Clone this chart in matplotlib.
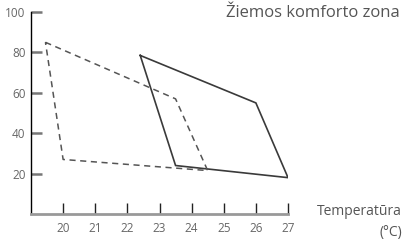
import matplotlib
matplotlib.use("Agg")
import matplotlib.pyplot as plt

# Data
solid_t = [22.4, 26.0, 27.0, 23.5, 22.4]
solid_h = [78.5, 55.0, 18.0, 24.0, 78.5]
dash_t = [19.45, 23.5, 24.5, 20.0, 19.45]
dash_h = [85.0, 57.0, 21.5, 27.0, 85.0]
xticks = [20, 21, 22, 23, 24, 25, 26, 27]
yticks = [20, 40, 60, 80, 100]
title = "Žiemos komforto zona"
xlabel = "Temperatūra\n(°C)"

plt.rcParams['font.family'] = ['Open Sans', 'DejaVu Sans']

fig = plt.figure(figsize=(4.06, 2.40), dpi=100)
ax = fig.add_axes([31/406, 1-214/240, (288-31)/406, (214-12)/240])
ax.plot(solid_t, solid_h, color='#3a3a3a', lw=1.2, solid_joinstyle='miter')
ax.plot(dash_t, dash_h, color='#555555', lw=1.1, dashes=(4, 3))
ax.set_xlim(19, 27)
ax.set_ylim(0, 100)
ax.set_xticks(xticks)
ax.set_yticks(yticks)
ax.spines['top'].set_visible(False)
ax.spines['right'].set_visible(False)
ax.spines['left'].set_color('black')
ax.spines['left'].set_linewidth(1.0)
ax.spines['bottom'].set_color('#999999')
ax.spines['bottom'].set_linewidth(2.0)
ax.tick_params(axis='y', direction='in', length=8, width=1.8, color='#777777',
               labelcolor='#666666', labelsize=8.5, pad=4)
ax.tick_params(axis='x', direction='in', length=8, width=1.0, color='#222222',
               labelcolor='#666666', labelsize=8.5, pad=6)
fig.text(400/406, 1-13/240, title, ha='right', va='center', fontsize=12, color='#555555')
fig.text(402/406, 1-222/240, xlabel, ha='right', va='center', fontsize=10, color='#555555',
         multialignment='right', linespacing=1.55)
fig.savefig('out.png', dpi=100)
